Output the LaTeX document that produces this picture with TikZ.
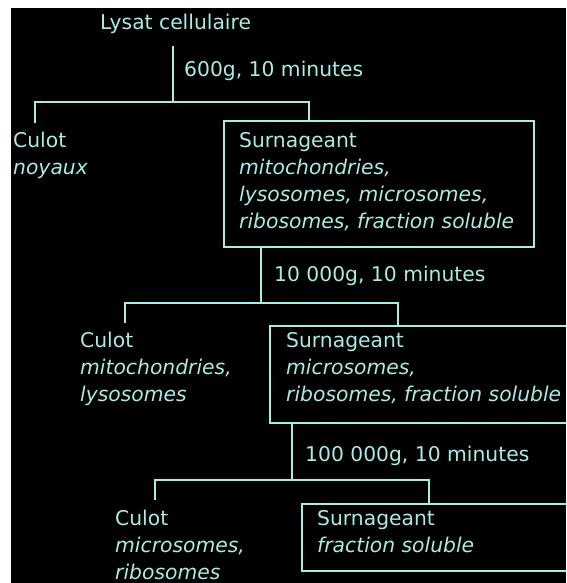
\documentclass[tikz,border=0pt]{standalone}
\usepackage{fontspec}
\setmainfont{DejaVu Sans}
\definecolor{ink}{RGB}{168,236,228}
\begin{document}
\begin{tikzpicture}[x=1pt,y=-1pt,
  txt/.style={anchor=base west,inner sep=0pt,text=ink,font=\fontsize{20.3}{27}\selectfont},
  itx/.style={txt,font=\fontsize{20.3}{27}\selectfont\itshape},
  link/.style={draw=ink,line width=2pt},
  boxline/.style={draw=ink,line width=2.2pt}]
\useasboundingbox (0,0) rectangle (566,583);
\fill[white] (0,0) rectangle (566,583);
\fill[black] (11,8) rectangle (566,583);
\begin{scope}
\clip (11,8) rectangle (566,583);
% boxes
\node[boxline,anchor=north west,minimum width=310pt,minimum height=126pt,inner sep=0pt] (b1) at (223,120) {};
\node[boxline,anchor=north west,minimum width=320pt,minimum height=97pt,inner sep=0pt] (b2) at (269,325) {};
\node[boxline,anchor=north west,minimum width=290pt,minimum height=67pt,inner sep=0pt] (b3) at (301,503) {};
% texts
\node[txt] (lysat) at (100,30) {Lysat cellulaire};
\node[txt] (g1) at (184,77) {600g, 10 minutes};
\node[txt] (c1) at (13,147) {Culot};
\node[itx] (c1a) at (13,174) {noyaux};
\node[txt] (s1) at (239,147) {Surnageant};
\node[itx] (s1a) at (239,174) {mitochondries,};
\node[itx] (s1b) at (239,201) {lysosomes, microsomes,};
\node[itx] (s1c) at (239,228) {ribosomes, fraction soluble};
\node[txt] (g2) at (274,281) {10 000g, 10 minutes};
\node[txt] (c2) at (80,347) {Culot};
\node[itx] (c2a) at (80,374) {mitochondries,};
\node[itx] (c2b) at (80,401) {lysosomes};
\node[txt] (s2) at (286,347) {Surnageant};
\node[itx] (s2a) at (286,374) {microsomes,};
\node[itx] (s2b) at (286,401) {ribosomes, fraction soluble};
\node[txt] (g3) at (305,461) {100 000g, 10 minutes};
\node[txt] (c3) at (115,525) {Culot};
\node[itx] (c3a) at (115,552) {microsomes,};
\node[itx] (c3b) at (115,579) {ribosomes};
\node[txt] (s3) at (317,525) {Surnageant};
\node[itx] (s3a) at (317,552) {fraction soluble};
% connector coordinates
\coordinate (t1) at (173,46);
\coordinate (j1) at (173,102);
\coordinate (l1) at (35,123);
\coordinate (j2) at (261,303);
\coordinate (l2) at (125,323);
\coordinate (j3) at (292,480);
\coordinate (l3) at (155,500);
% connectors
\draw[link] (t1) -- (j1);
\draw[link] (l1) |- (j1) -| (b1.north west -| 309,0);
\draw[link] (b1.south west -| j2) -- (j2);
\draw[link] (l2) |- (j2) -| (b2.north west -| 398,0);
\draw[link] (b2.south west -| j3) -- (j3);
\draw[link] (l3) |- (j3) -| (b3.north west -| 429,0);
\end{scope}
\end{tikzpicture}
\end{document}
